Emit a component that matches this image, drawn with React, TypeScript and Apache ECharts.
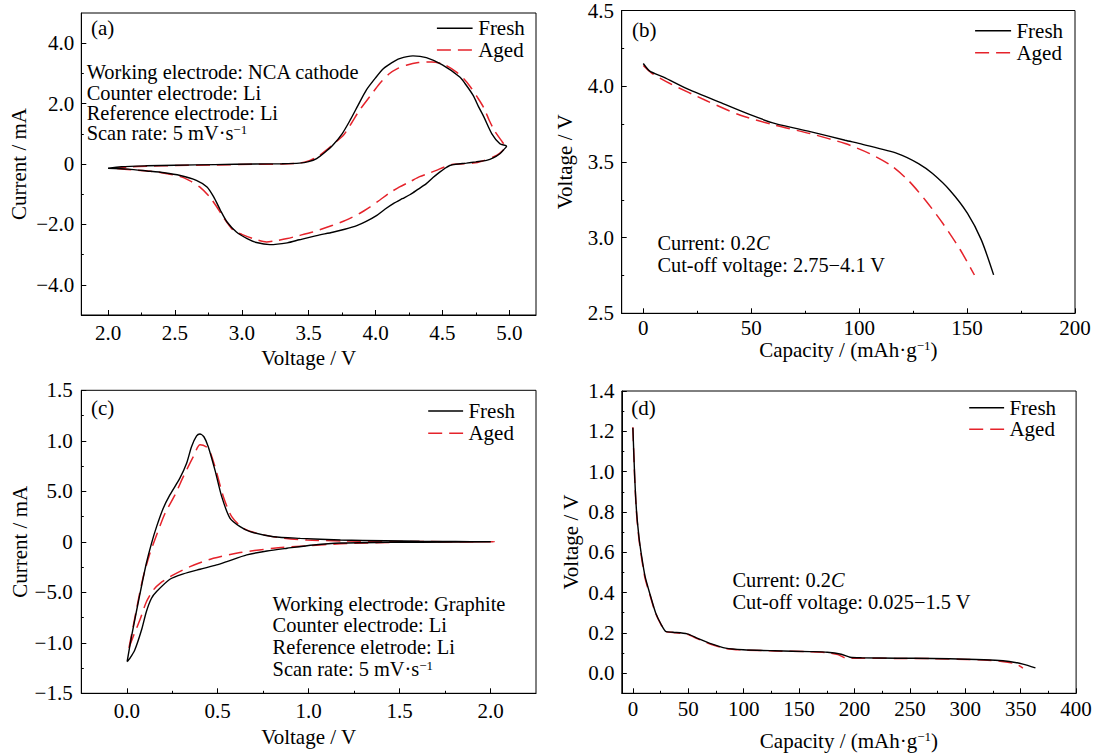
import React, { useEffect, useRef } from 'react';
import * as echarts from 'echarts';

const FONT = "'Liberation Serif', 'Times New Roman', Times, serif";
const FS = 21;
const NOTE_FS = 20.4;
const RED = '#e5232b';
const BLACK = '#000000';
const DASH = [14, 7];

// ---------- Panel (a): NCA cathode CV ----------
const aFreshV = [2.00,2.10,2.29,2.50,2.80,3.10,3.30,3.43,3.50,3.56,3.62,3.68,3.75,3.81,3.87,3.93,4.00,4.06,4.12,4.18,4.28,4.38,4.50,4.63,4.68,4.73,4.77,4.81,4.87,4.93,4.98,
  4.96,4.93,4.88,4.83,4.75,4.68,4.60,4.555,4.52,4.48,4.43,4.38,4.32,4.26,4.20,4.13,4.07,4.01,3.93,3.86,3.77,3.68,3.56,3.43,3.34,3.21,3.11,3.04,2.96,2.89,2.84,2.79,2.74,2.66,2.54,2.42,2.29,2.15,2.00];
const aFreshI = [-0.14,-0.09,-0.06,-0.04,-0.02,0.0,0.01,0.03,0.08,0.18,0.38,0.62,1.0,1.45,1.95,2.44,2.85,3.16,3.35,3.49,3.58,3.52,3.28,2.88,2.60,2.27,1.90,1.56,1.0,0.67,0.59,
  0.48,0.34,0.20,0.12,0.07,0.03,-0.01,-0.05,-0.14,-0.27,-0.45,-0.65,-0.83,-1.01,-1.15,-1.32,-1.50,-1.70,-1.90,-2.04,-2.16,-2.26,-2.37,-2.51,-2.61,-2.67,-2.60,-2.47,-2.25,-1.92,-1.53,-1.09,-0.76,-0.54,-0.38,-0.29,-0.23,-0.17,-0.14];
const aAgedV = [2.03,2.15,2.30,2.50,2.80,3.10,3.30,3.43,3.51,3.57,3.63,3.69,3.76,3.82,3.88,3.96,4.03,4.10,4.16,4.23,4.32,4.42,4.51,4.60,4.66,4.71,4.76,4.81,4.85,4.89,4.94,4.97,
  4.93,4.88,4.80,4.73,4.58,4.52,4.455,4.39,4.33,4.26,4.18,4.10,4.03,3.96,3.88,3.78,3.68,3.53,3.41,3.34,3.26,3.185,3.085,3.00,2.935,2.86,2.81,2.76,2.685,2.61,2.535,2.36,2.20,2.03];
const aAgedI = [-0.14,-0.10,-0.07,-0.05,-0.03,-0.01,0.0,0.03,0.12,0.25,0.45,0.68,0.95,1.35,1.78,2.25,2.66,2.98,3.15,3.27,3.36,3.38,3.30,3.06,2.82,2.55,2.22,1.86,1.45,1.10,0.78,0.56,
  0.36,0.23,0.10,0.03,-0.01,-0.09,-0.21,-0.32,-0.42,-0.58,-0.76,-0.97,-1.20,-1.42,-1.64,-1.86,-2.03,-2.25,-2.39,-2.47,-2.54,-2.58,-2.47,-2.33,-2.19,-1.75,-1.40,-1.09,-0.76,-0.55,-0.41,-0.26,-0.20,-0.14];

// ---------- Panel (b): NCA discharge ----------
const bFreshCap = [0,3,9.4,20.7,36.9,49.8,61.2,77.3,93.5,101.6,117.8,127.5,134,142,150.2,156.6,162.3];
const bFreshV = [4.15,4.10,4.06,3.98,3.885,3.81,3.753,3.70,3.643,3.616,3.555,3.489,3.423,3.313,3.16,2.985,2.754];
const bAgedCap = [0,4,12.6,28.8,45,61.2,77.3,93.5,104.9,114.6,122.7,130.7,138.8,146.9,153.4];
const bAgedV = [4.137,4.085,4.016,3.907,3.808,3.742,3.687,3.621,3.555,3.478,3.379,3.247,3.093,2.918,2.753];

// ---------- Panel (c): graphite CV ----------
const cFreshV = [0.002,0.026,0.053,0.081,0.108,0.136,0.164,0.20,0.237,0.292,0.329,0.356,0.384,0.402,0.424,0.448,0.485,0.522,0.568,0.623,0.678,0.807,0.954,1.175,1.42,1.61,2.0,
  1.61,1.42,1.175,1.028,0.881,0.771,0.66,0.55,0.494,0.403,0.311,0.237,0.164,0.136,0.108,0.081,0.044,0.017,0.002];
const cFreshI = [-1.187,-0.94,-0.69,-0.44,-0.21,-0.015,0.15,0.33,0.464,0.63,0.777,0.942,1.048,1.067,1.04,0.942,0.71,0.447,0.232,0.15,0.10,0.05,0.034,0.018,0.01,0.005,0.0,
  -0.004,-0.006,-0.012,-0.031,-0.064,-0.091,-0.13,-0.196,-0.229,-0.272,-0.318,-0.371,-0.493,-0.559,-0.69,-0.874,-1.072,-1.155,-1.187];
const cAgedV = [0.012,0.035,0.062,0.09,0.127,0.164,0.21,0.265,0.311,0.366,0.403,0.448,0.485,0.531,0.577,0.641,0.715,0.825,0.991,1.2,1.5,2.02,
  1.5,1.175,0.991,0.807,0.623,0.476,0.348,0.256,0.183,0.146,0.108,0.072,0.035,0.012];
const cAgedI = [-1.05,-0.84,-0.59,-0.35,-0.115,0.067,0.28,0.464,0.645,0.843,0.96,0.925,0.744,0.447,0.249,0.133,0.084,0.044,0.018,0.008,0.003,0.0,
  -0.004,-0.02,-0.04,-0.064,-0.107,-0.163,-0.246,-0.328,-0.411,-0.477,-0.593,-0.774,-0.94,-1.05];

// ---------- Panel (d): graphite discharge ----------
const dFreshCap = [0,1.6,3.2,5.4,7.9,11,15.8,20.5,25.3,30,36.3,49,58.5,71,83.7,99.5,128,159.6,175.4,188,196,207,238.5,270,301.7,327,339.7,352,363.3];
const dFreshV = [1.218,0.98,0.81,0.68,0.58,0.48,0.385,0.30,0.244,0.206,0.203,0.195,0.173,0.145,0.124,0.116,0.111,0.107,0.104,0.094,0.079,0.076,0.074,0.073,0.069,0.064,0.058,0.045,0.026];
const dAgedCap = [0,1.6,3.2,5.4,7.9,11,15.8,20.5,25.3,30,36.3,49,58.5,71,83.7,99.5,128,159.6,175.4,185,193,207,238.5,270,301.7,320,333,346,352];
const dAgedV = [1.22,0.97,0.80,0.67,0.57,0.47,0.38,0.297,0.242,0.205,0.202,0.193,0.170,0.142,0.122,0.115,0.110,0.106,0.102,0.092,0.074,0.074,0.073,0.072,0.068,0.064,0.058,0.045,0.025];

// ---------- Tick values & labels ----------
const aXTicks = [2.0, 2.5, 3.0, 3.5, 4.0, 4.5, 5.0];
const aXLabels = ['2.0', '2.5', '3.0', '3.5', '4.0', '4.5', '5.0'];
const aXMinor = [2.25, 2.75, 3.25, 3.75, 4.25, 4.75];
const aYTicks = [-4, -2, 0, 2, 4];
const aYLabels = ['\u22124.0', '\u22122.0', '0', '2.0', '4.0'];
const aYMinor = [-3, -1, 1, 3];

const bXTicks = [0, 50, 100, 150, 200];
const bXLabels = ['0', '50', '100', '150', '200'];
const bXMinor = [25, 75, 125, 175];
const bYTicks = [2.5, 3.0, 3.5, 4.0, 4.5];
const bYLabels = ['2.5', '3.0', '3.5', '4.0', '4.5'];
const bYMinor = [2.75, 3.25, 3.75, 4.25];

const cXTicks = [0, 0.5, 1.0, 1.5, 2.0];
const cXLabels = ['0.0', '0.5', '1.0', '1.5', '2.0'];
const cXMinor = [0.25, 0.75, 1.25, 1.75];
const cYTicks = [-1.5, -1.0, -0.5, 0, 0.5, 1.0, 1.5];
const cYLabels = ['\u22121.5', '\u22121.0', '\u22125.0', '0', '5.0', '1.0', '1.5'];
const cYMinor = [-1.25, -0.75, -0.25, 0.25, 0.75, 1.25];

const dXTicks = [0, 50, 100, 150, 200, 250, 300, 350, 400];
const dXLabels = ['0', '50', '100', '150', '200', '250', '300', '350', '400'];
const dXMinor = [25, 75, 125, 175, 225, 275, 325, 375];
const dYTicks = [0, 0.2, 0.4, 0.6, 0.8, 1.0, 1.2, 1.4];
const dYLabels = ['0.0', '0.2', '0.4', '0.6', '0.8', '1.0', '1.2', '1.4'];
const dYMinor = [0.1, 0.3, 0.5, 0.7, 0.9, 1.1, 1.3];

const seriesNames = ['Fresh', 'Aged'];

const CAP_NAME = 'Capacity / (mAh\u00b7g{sup|\u22121})';

const PANELS = [
  {
    grid: { left: 81.3, top: 13, width: 454.7, height: 302 },
    xMin: 1.8, xMax: 5.2, yMin: -5, yMax: 5,
    xTicks: aXTicks, xLabels: aXLabels, xMinor: aXMinor,
    yTicks: aYTicks, yLabels: aYLabels, yMinor: aYMinor,
    xName: 'Voltage / V', yName: 'Current / mA', xNameGap: 32.4, yNameGap: 51.7, xMargin: 7.4, yMargin: 7,
    fresh: [aFreshV, aFreshI], aged: [aAgedV, aAgedI],
    tag: { x: 90.9, y: 28.3, text: '(a)' },
    legend: { x1: 436.9, x2: 472.6, tx: 478.2, y1: 28.3, y2: 50 },
    notes: { x: 86.7, ys: [72.2, 92.9, 113.0, 133.4],
      lines: ['Working electrode: NCA cathode', 'Counter electrode: Li', 'Reference electrode: Li', 'Scan rate: 5 mV\u00b7s{sup|\u22121}'] },
  },
  {
    grid: { left: 621.7, top: 10, width: 453.3, height: 303.3 },
    xMin: -10, xMax: 200, yMin: 2.5, yMax: 4.5,
    xTicks: bXTicks, xLabels: bXLabels, xMinor: bXMinor,
    yTicks: bYTicks, yLabels: bYLabels, yMinor: bYMinor,
    xName: CAP_NAME, yName: 'Voltage / V', xNameGap: 24, yNameGap: 45.8, xMargin: 4, yMargin: 7.7,
    fresh: [bFreshCap, bFreshV], aged: [bAgedCap, bAgedV],
    tag: { x: 631.9, y: 30, text: '(b)' },
    legend: { x1: 975.1, x2: 1011.1, tx: 1016.4, y1: 30.7, y2: 52.7 },
    notes: { x: 657.4, ys: [242.8, 264.8],
      lines: ['Current: 0.2{it|C}', 'Cut-off voltage: 2.75\u22124.1 V'] },
  },
  {
    grid: { left: 81.3, top: 390.3, width: 454.7, height: 303 },
    xMin: -0.25, xMax: 2.25, yMin: -1.5, yMax: 1.5,
    xTicks: cXTicks, xLabels: cXLabels, xMinor: cXMinor,
    yTicks: cYTicks, yLabels: cYLabels, yMinor: cYMinor,
    xName: 'Voltage / V', yName: 'Current / mA', xNameGap: 33, yNameGap: 50.6, xMargin: 6.8, yMargin: 8.6,
    fresh: [cFreshV, cFreshI], aged: [cAgedV, cAgedI],
    tag: { x: 90.9, y: 407.7, text: '(c)' },
    legend: { x1: 428.2, x2: 463.1, tx: 468.4, y1: 411, y2: 433.3 },
    notes: { x: 272.6, ys: [603.6, 625.4, 647.2, 669.0],
      lines: ['Working electrode: Graphite', 'Counter electrode: Li', 'Reference eletrode: Li', 'Scan rate: 5 mV\u00b7s{sup|\u22121}'] },
  },
  {
    grid: { left: 621.8, top: 391, width: 454.3, height: 302.3 },
    xMin: -10, xMax: 400, yMin: -0.1, yMax: 1.4,
    xTicks: dXTicks, xLabels: dXLabels, xMinor: dXMinor,
    yTicks: dYTicks, yLabels: dYLabels, yMinor: dYMinor,
    xName: CAP_NAME, yName: 'Voltage / V', xNameGap: 36.8, yNameGap: 40.7, xMargin: 5, yMargin: 7.4,
    fresh: [dFreshCap, dFreshV], aged: [dAgedCap, dAgedV],
    tag: { x: 631.2, y: 407.7, text: '(d)' },
    legend: { x1: 969.2, x2: 1004.1, tx: 1009.4, y1: 407.7, y2: 429.3 },
    notes: { x: 732.5, ys: [580.4, 602.4],
      lines: ['Current: 0.2{it|C}', 'Cut-off voltage: 0.025\u22121.5 V'] },
  },
];

const makeRich = (fs: number) => ({
  sup: { fontSize: Math.round(fs * 0.62), fontFamily: FONT, color: BLACK, fill: BLACK, verticalAlign: 'top' },
  it: { fontSize: fs, fontFamily: FONT, color: BLACK, fill: BLACK, fontStyle: 'italic' },
});
const RICH = makeRich(FS);
const NOTE_RICH = makeRich(NOTE_FS);

const TXT = { fontSize: FS, fontFamily: FONT, color: BLACK };

function fmt(ticks: number[], labels: string[]) {
  return (v: number) => {
    for (let i = 0; i < ticks.length; i++) {
      if (Math.abs(ticks[i] - v) < 1e-6) return labels[i];
    }
    return '';
  };
}

function zip(xs: number[], ys: number[]) {
  return xs.map((x, i) => [x, ys[i]]);
}

const AXIS_LINE = { color: BLACK, width: 1 };

function buildOption() {
  const grid: any[] = [];
  const xAxis: any[] = [];
  const yAxis: any[] = [];
  const series: any[] = [];
  const graphic: any[] = [];

  PANELS.forEach((p, i) => {
    grid.push({ ...p.grid, show: true, borderColor: BLACK, borderWidth: 1, backgroundColor: 'transparent', containLabel: false });
    xAxis[i] = {
      type: 'value', gridIndex: i, min: p.xMin, max: p.xMax, position: 'bottom',
      name: p.xName, nameLocation: 'middle', nameGap: p.xNameGap,
      nameTextStyle: { ...TXT, rich: RICH },
      axisLine: { show: true, onZero: false, lineStyle: AXIS_LINE },
      axisTick: { show: true, inside: true, length: 5, customValues: p.xTicks, lineStyle: AXIS_LINE },
      axisLabel: { show: true, customValues: p.xTicks, formatter: fmt(p.xTicks, p.xLabels), margin: p.xMargin, ...TXT },
      splitLine: { show: false }, minorTick: { show: false },
    };
    yAxis[i] = {
      type: 'value', gridIndex: i, min: p.yMin, max: p.yMax, position: 'left',
      name: p.yName, nameLocation: 'middle', nameGap: p.yNameGap,
      nameTextStyle: { ...TXT, rich: RICH },
      axisLine: { show: true, onZero: false, lineStyle: AXIS_LINE },
      axisTick: { show: true, inside: true, length: 5, customValues: p.yTicks, lineStyle: AXIS_LINE },
      axisLabel: { show: true, customValues: p.yTicks, formatter: fmt(p.yTicks, p.yLabels), margin: p.yMargin, ...TXT },
      splitLine: { show: false }, minorTick: { show: false },
    };
    xAxis[i + 4] = {
      type: 'value', gridIndex: i, min: p.xMin, max: p.xMax, position: 'bottom',
      axisLine: { show: false, onZero: false },
      axisTick: { show: true, inside: true, length: 2.5, customValues: p.xMinor, lineStyle: AXIS_LINE },
      axisLabel: { show: false }, splitLine: { show: false },
    };
    yAxis[i + 4] = {
      type: 'value', gridIndex: i, min: p.yMin, max: p.yMax, position: 'left',
      axisLine: { show: false, onZero: false },
      axisTick: { show: true, inside: true, length: 2.5, customValues: p.yMinor, lineStyle: AXIS_LINE },
      axisLabel: { show: false }, splitLine: { show: false },
    };

    series.push({
      name: seriesNames[1], type: 'line', xAxisIndex: i, yAxisIndex: i,
      data: zip(p.aged[0], p.aged[1]), symbol: 'none', showSymbol: false, smooth: 0.25,
      lineStyle: { color: RED, width: 1.5, type: DASH }, itemStyle: { color: RED }, z: 2, silent: true,
    });
    series.push({
      name: seriesNames[0], type: 'line', xAxisIndex: i, yAxisIndex: i,
      data: zip(p.fresh[0], p.fresh[1]), symbol: 'none', showSymbol: false, smooth: 0.25,
      lineStyle: { color: BLACK, width: 1.4, type: 'solid' }, itemStyle: { color: BLACK }, z: 3, silent: true,
    });

    const textStyle = (text: string, fs: number, rich: any) => ({
      text, fontSize: fs, fontFamily: FONT, fill: BLACK, align: 'left', verticalAlign: 'middle', rich,
    });
    graphic.push({ type: 'text', x: p.tag.x, y: p.tag.y, style: textStyle(p.tag.text, FS, RICH), z: 10 });
    graphic.push({ type: 'line', shape: { x1: p.legend.x1, y1: p.legend.y1, x2: p.legend.x2, y2: p.legend.y1 },
      style: { stroke: BLACK, lineWidth: 1.4 }, z: 10 });
    graphic.push({ type: 'line', shape: { x1: p.legend.x1, y1: p.legend.y2, x2: p.legend.x2, y2: p.legend.y2 },
      style: { stroke: RED, lineWidth: 1.5, lineDash: DASH }, z: 10 });
    graphic.push({ type: 'text', x: p.legend.tx, y: p.legend.y1, style: textStyle(seriesNames[0], FS, RICH), z: 10 });
    graphic.push({ type: 'text', x: p.legend.tx, y: p.legend.y2, style: textStyle(seriesNames[1], FS, RICH), z: 10 });
    p.notes.lines.forEach((ln, k) => {
      graphic.push({ type: 'text', x: p.notes.x, y: p.notes.ys[k], style: textStyle(ln, NOTE_FS, NOTE_RICH), z: 10 });
    });
  });

  return {
    animation: false,
    backgroundColor: '#ffffff',
    textStyle: { fontFamily: FONT },
    grid, xAxis, yAxis, series, graphic,
  };
}

export default function App() {
  const ref = useRef<HTMLDivElement>(null);
  useEffect(() => {
    if (!ref.current) return;
    const chart = echarts.init(ref.current, null, { renderer: 'svg' });
    chart.setOption(buildOption() as any);
    return () => chart.dispose();
  }, []);
  return (
    <div
      ref={ref}
      style={{ position: 'fixed', left: 0, top: 0, width: 1096, height: 753, background: '#ffffff' }}
    />
  );
}
